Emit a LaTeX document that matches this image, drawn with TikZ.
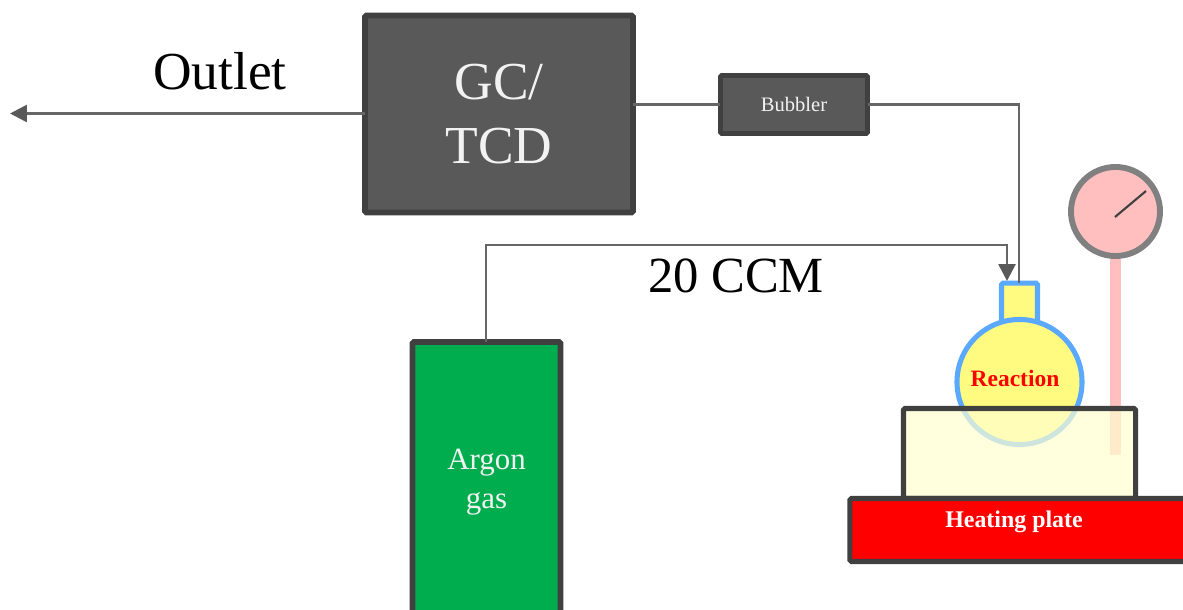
\documentclass[tikz,border=0pt]{standalone}
\usepackage{fontspec}
\setmainfont{Liberation Serif}
\usetikzlibrary{arrows.meta, positioning, calc}
\definecolor{boxgray}{RGB}{89,89,89}
\definecolor{edgegray}{RGB}{64,64,64}
\definecolor{linegray}{RGB}{102,102,102}
\definecolor{argongreen}{RGB}{0,173,78}
\definecolor{flaskblue}{RGB}{91,168,255}
\definecolor{flaskyellow}{RGB}{255,251,128}
\definecolor{gaugepink}{RGB}{255,191,191}
\definecolor{gaugegray}{RGB}{128,128,128}
\definecolor{beakeryellow}{RGB}{255,255,208}
\tikzset{
    unitbox/.style={draw=edgegray, fill=boxgray, line width=4pt, rounded corners=1pt,
        inner sep=0pt, outer sep=0pt, align=center, text=white!95!black},
    pipe/.style={draw=linegray, line width=1.9pt},
    pipearrow/.style={pipe, -{Triangle[length=12pt, width=12pt, color=boxgray]}},
}

\begin{document}
\begin{tikzpicture}[x=0.025cm, y=-0.025cm]
\path[use as bounding box, clip] (0,0) rectangle (1183,610);

% === units ===
\node[unitbox, minimum width=6.7cm, minimum height=4.925cm, font=\fontsize{38}{45.5}\selectfont] (gc) at (499,114) {GC/\\TCD};
\node[unitbox, line width=3.5pt, minimum width=3.675cm, minimum height=1.45cm, font=\fontsize{14.6}{17}\selectfont] (bubbler) at (794,104.5) {Bubbler};
\node[unitbox, fill=argongreen, minimum width=3.7cm, minimum height=7cm, font=\fontsize{22}{28}\selectfont] (argon) at (486.5,482) {Argon\\gas};

% === gauge ===
\node[fill=gaugepink, inner sep=0pt, minimum width=0.275cm, minimum height=4.9cm] (stem) at (1115.5,357) {};
\node[circle, draw=gaugegray, fill=gaugepink, line width=4.2pt, inner sep=0pt, minimum size=2.225cm] (gauge) at (1115.5,211.5) {};
\coordinate (pivot) at (1115,217);
\coordinate (needle) at (1146,191);
\draw[edgegray, line width=1.5pt] (pivot) -- (needle);

% === flask ===
\node[draw=flaskblue, fill=flaskyellow, line width=3.6pt, rounded corners=1pt, inner sep=0pt, minimum width=0.9cm, minimum height=1.04cm] (neck) at (1019.5,304) {};
\node[circle, draw=flaskblue, fill=flaskyellow, line width=3.6pt, inner sep=0pt, minimum size=3.125cm] (bulb) at (1019.5,382) {};
\node[font=\fontsize{16.7}{20}\selectfont\bfseries, text=red] (reaction) at (1015,378) {Reaction};

% === heating ===
\node[draw=edgegray, line width=3.6pt, fill=beakeryellow, fill opacity=0.7, rounded corners=1pt, inner sep=0pt, minimum width=5.8cm, minimum height=2.25cm] (beaker) at (1019.5,453.5) {};
\node[draw=edgegray, fill=red, line width=3.6pt, rounded corners=1pt, inner sep=0pt, minimum width=8.5cm, minimum height=1.575cm] (plate) at (1020,530) {};
\node[font=\fontsize{17}{20}\selectfont\bfseries, text=white] (heating) at (1014,522) {Heating plate};

% === labels ===
\node[font=\fontsize{38}{45}\selectfont] (outlet) at (220,71) {Outlet};
\node[font=\fontsize{36}{43}\selectfont] (ccm) at (736,276) {20 CCM};

% === pipes ===
\coordinate (outletend) at (10,113.5);
\coordinate (argoncorner) at (486,245);
\coordinate (inletcorner) at (1007,245);
\coordinate (inletend) at (1007,281);
\coordinate (returncorner) at (1019,104.5);
\coordinate (returnend) at (1019,283);
\draw[pipearrow] (gc.west |- outletend) -- (outletend);
\draw[pipe] (gc.east |- bubbler.west) -- (bubbler.west);
\draw[pipe] (bubbler.east) -- (returncorner) -- (returnend);
\draw[pipearrow] (argoncorner |- argon.north) -- (argoncorner) -- (inletcorner) -- (inletend);

\end{tikzpicture}
\end{document}
